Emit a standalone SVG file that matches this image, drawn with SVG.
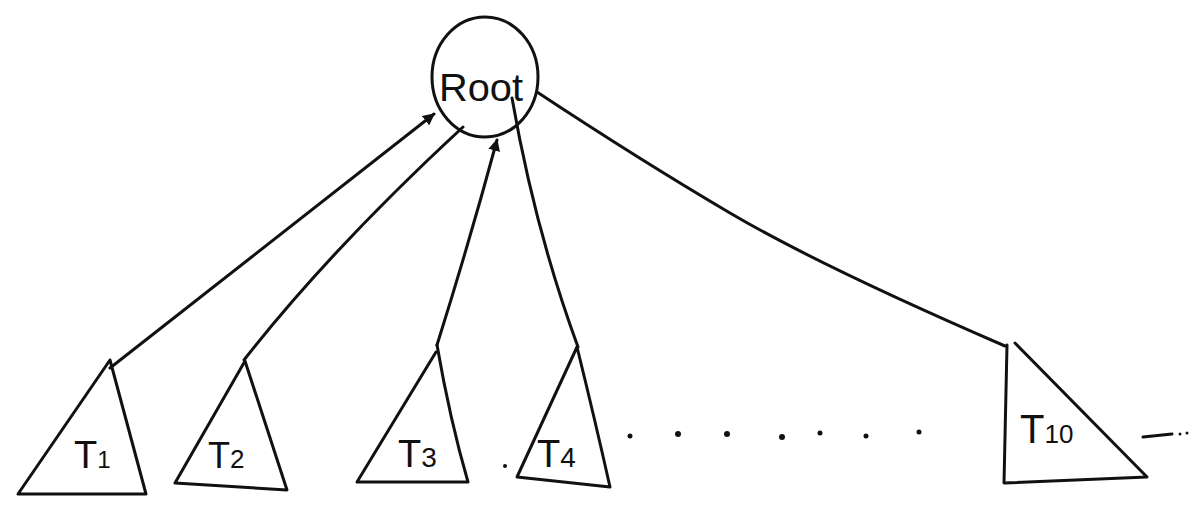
<svg xmlns="http://www.w3.org/2000/svg" width="1192" height="506" viewBox="0 0 1192 506">
  <defs>
    <marker id="arr" viewBox="0 0 10 10" refX="9" refY="5" markerWidth="4" markerHeight="4" orient="auto-start-reverse">
      <path d="M0,0 L10,5 L0,10 z" fill="#111"/>
    </marker>
  </defs>
  <style>
    .ln { fill: none; stroke: #111; stroke-width: 3; stroke-linecap: round; stroke-linejoin: round; }
    .lbl { font-family: "Liberation Sans", "DejaVu Sans", sans-serif; fill: #111; }
    .dot { fill: #111; }
  </style>
  <rect width="1192" height="506" fill="#ffffff"/>

  <g id="connectors">
    <path class="ln" d="M110,368 L434,114" marker-end="url(#arr)"/>
    <path class="ln" d="M244,360 Q330,250 463,127"/>
    <path class="ln" d="M437,345 Q470,240 497,140" marker-end="url(#arr)"/>
    <path class="ln" d="M512,98 Q535,230 578,347"/>
    <path class="ln" d="M537,92 Q640,160 730,213 T1005,346"/>
  </g>

  <g id="root">
    <ellipse class="ln" cx="485" cy="77" rx="53" ry="60"/>
    <text class="lbl" x="481" y="101" font-size="38" text-anchor="middle" textLength="84" lengthAdjust="spacingAndGlyphs">Root</text>
  </g>

  <g id="t1">
    <path class="ln" d="M110,360 L18,494 L146,494 Z"/>
    <text class="lbl" x="74" y="468" font-size="38">T<tspan font-size="24">1</tspan></text>
  </g>
  <g id="t2">
    <path class="ln" d="M245,361 L175,483 L287,490 Z"/>
    <text class="lbl" x="208" y="468" font-size="36">T<tspan font-size="26">2</tspan></text>
  </g>
  <g id="t3">
    <path class="ln" d="M436,352 L357,482 L468,482 Q450,420 437,345"/>
    <text class="lbl" x="398" y="467" font-size="38">T<tspan font-size="28">3</tspan></text>
  </g>
  <g id="t4">
    <path class="ln" d="M577,347 L517,477 L610,487 Q595,420 577,347"/>
    <text class="lbl" x="537" y="467" font-size="38">T<tspan font-size="28">4</tspan></text>
  </g>
  <g id="t10">
    <path class="ln" d="M1007,345 L1004,483 L1147,477 L1015,343"/>
    <text class="lbl" x="1020" y="443" font-size="40">T<tspan font-size="26">10</tspan></text>
  </g>

  <g id="ellipsis">
    <circle class="dot" cx="630" cy="436" r="2.5"/>
    <circle class="dot" cx="678" cy="434" r="3"/>
    <circle class="dot" cx="727" cy="434" r="3"/>
    <circle class="dot" cx="782" cy="437" r="3"/>
    <circle class="dot" cx="820" cy="433" r="2.5"/>
    <circle class="dot" cx="866" cy="436" r="2.5"/>
    <circle class="dot" cx="919" cy="432" r="2.5"/>
    <circle class="dot" cx="505" cy="466" r="2"/>
    <path class="ln" d="M1143,437 L1172,434" stroke-width="2.5"/>
    <circle class="dot" cx="1180" cy="434" r="1.5"/>
    <circle class="dot" cx="1187" cy="433" r="1.5"/>
  </g>
</svg>
